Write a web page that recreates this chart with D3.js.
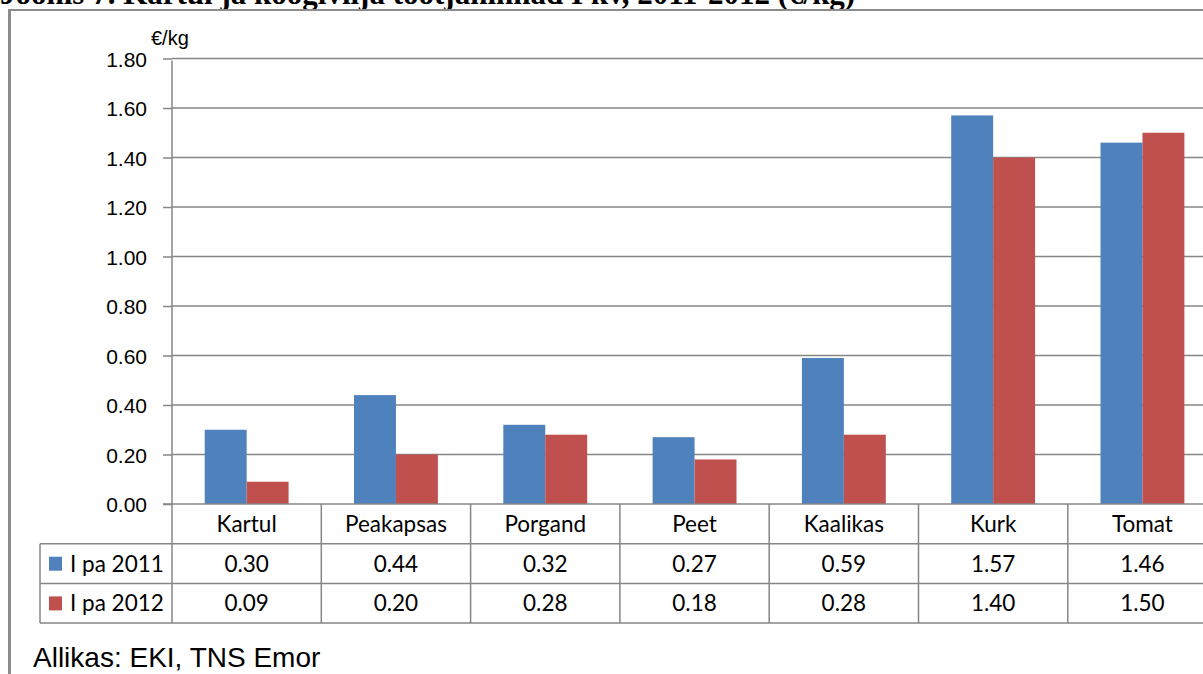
<!DOCTYPE html>
<html>
<head>
<meta charset="utf-8">
<script src="https://cdn.jsdelivr.net/npm/d3@7"></script>
<style>
  html, body { margin: 0; padding: 0; background: #fff; overflow: hidden; }
  svg { display: block; }
</style>
</head>
<body>
<svg id="chart" width="1203" height="674"></svg>
<script>
let categories = ["Kartul", "Peakapsas", "Porgand", "Peet", "Kaalikas", "Kurk", "Tomat"];
let seriesNames = ["I pa 2011", "I pa 2012"];
let values2011 = [0.30, 0.44, 0.32, 0.27, 0.59, 1.57, 1.46];
let values2012 = [0.09, 0.20, 0.28, 0.18, 0.28, 1.40, 1.50];
let yTicks = [0, 0.2, 0.4, 0.6, 0.8, 1.0, 1.2, 1.4, 1.6, 1.8];
let colors = ["#4F81BD", "#C0504D"];

let series = [values2011, values2012];
let lineColor = "#868686";

let svg = d3.select("#chart");

// title, cut off at the top of the picture
svg.append("text")
    .attr("x", 0)
    .attr("y", 4)
    .attr("font-family", "Liberation Serif")
    .attr("font-weight", "bold")
    .attr("font-size", 31)
    .attr("fill", "#000")
    .text("Joonis 7. Kartul ja köögivilja tootjahinnad I kv, 2011-2012 (€/kg)");

// outer frame
svg.append("line").attr("x1", 9.5).attr("x2", 1203).attr("y1", 10).attr("y2", 10)
    .attr("stroke", "#8c8c8c").attr("stroke-width", 2);
svg.append("line").attr("x1", 9.5).attr("x2", 9.5).attr("y1", 9).attr("y2", 674)
    .attr("stroke", "#8c8c8c").attr("stroke-width", 3);

let x0 = 172, bandW = 149.3;
let x = d3.scaleBand()
    .domain(categories)
    .range([x0, x0 + bandW * categories.length])
    .padding(0);

let xs = d3.scaleBand()
    .domain(seriesNames)
    .range([0, x.bandwidth()])
    .paddingInner(0)
    .paddingOuter(0.78);

let y = d3.scaleLinear()
    .domain([0, 1.8])
    .range([504, 58.5]);

// gridlines
svg.append("g").selectAll("line")
    .data(yTicks.slice(1))
    .enter().append("line")
    .attr("x1", x0).attr("x2", 1203)
    .attr("y1", d => y(d)).attr("y2", d => y(d))
    .attr("stroke", lineColor).attr("stroke-width", 1.5);

// y axis
let yAxis = svg.append("g")
    .attr("transform", `translate(${x0},0)`)
    .call(d3.axisLeft(y).tickValues(yTicks).tickFormat(d3.format(".2f")).tickSize(9).tickPadding(16));
yAxis.select(".domain").attr("stroke", lineColor).attr("stroke-width", 1.5)
    .attr("d", `M0,${y(1.8) + 2}V${y(0)}`);
yAxis.selectAll(".tick line").attr("stroke", lineColor).attr("stroke-width", 1.5);
yAxis.selectAll(".tick text")
    .attr("font-family", "Liberation Sans")
    .attr("font-size", 21)
    .attr("fill", "#000")
    .attr("dy", "0.36em");

svg.append("text")
    .attr("x", 151).attr("y", 45)
    .attr("font-family", "Liberation Sans")
    .attr("font-size", 20)
    .text("€/kg");

// bars
let groups = svg.append("g").selectAll("g")
    .data(series)
    .enter().append("g")
    .attr("fill", (d, i) => colors[i]);

groups.each(function (vals, si) {
    d3.select(this).selectAll("rect")
        .data(vals)
        .enter().append("rect")
        .attr("x", (d, i) => x(categories[i]) + xs(seriesNames[si]))
        .attr("width", xs.bandwidth())
        .attr("y", d => y(d))
        .attr("height", d => y(0) - y(d));
});

// x axis line (0.00)
svg.append("line")
    .attr("x1", x0 - 9).attr("x2", 1203)
    .attr("y1", y(0)).attr("y2", y(0))
    .attr("stroke", lineColor).attr("stroke-width", 1.5);

// data table
let rowTop = 504, rowH = 39.7, legendX = 40;
let table = svg.append("g");

table.selectAll("line.h")
    .data([1, 2, 3])
    .enter().append("line")
    .attr("x1", legendX).attr("x2", 1203)
    .attr("y1", d => rowTop + d * rowH).attr("y2", d => rowTop + d * rowH)
    .attr("stroke", lineColor).attr("stroke-width", 1.5);

table.append("line")
    .attr("x1", legendX).attr("x2", legendX)
    .attr("y1", rowTop + rowH).attr("y2", rowTop + 3 * rowH)
    .attr("stroke", lineColor).attr("stroke-width", 1.5);

table.selectAll("line.v")
    .data(categories.concat(["end"]))
    .enter().append("line")
    .attr("x1", (d, i) => x0 + i * x.bandwidth())
    .attr("x2", (d, i) => x0 + i * x.bandwidth())
    .attr("y1", rowTop).attr("y2", rowTop + 3 * rowH)
    .attr("stroke", lineColor).attr("stroke-width", 1.5);

let cellFont = "Lato", cellSize = 22.5;
table.selectAll("text.cat")
    .data(categories)
    .enter().append("text")
    .attr("x", d => x(d) + x.bandwidth() / 2)
    .attr("y", rowTop + 28)
    .attr("text-anchor", "middle")
    .attr("font-family", cellFont)
    .attr("font-size", cellSize)
    .text(d => d);

series.forEach(function (vals, si) {
    let ry = rowTop + (si + 1) * rowH;
    table.append("rect")
        .attr("x", 49).attr("y", ry + 13)
        .attr("width", 13).attr("height", 14)
        .attr("fill", colors[si]);
    table.append("text")
        .attr("x", 70).attr("y", ry + 28)
        .attr("font-family", cellFont)
        .attr("font-size", cellSize)
        .text(seriesNames[si]);
    table.selectAll("text.v" + si)
        .data(vals)
        .enter().append("text")
        .attr("x", (d, i) => x(categories[i]) + x.bandwidth() / 2)
        .attr("y", ry + 28)
        .attr("text-anchor", "middle")
        .attr("font-family", cellFont)
        .attr("font-size", cellSize)
        .text(d => d3.format(".2f")(d));
});

// source
svg.append("text")
    .attr("x", 33).attr("y", 667)
    .attr("font-family", "Liberation Sans")
    .attr("font-size", 28)
    .text("Allikas: EKI, TNS Emor");
</script>
</body>
</html>
